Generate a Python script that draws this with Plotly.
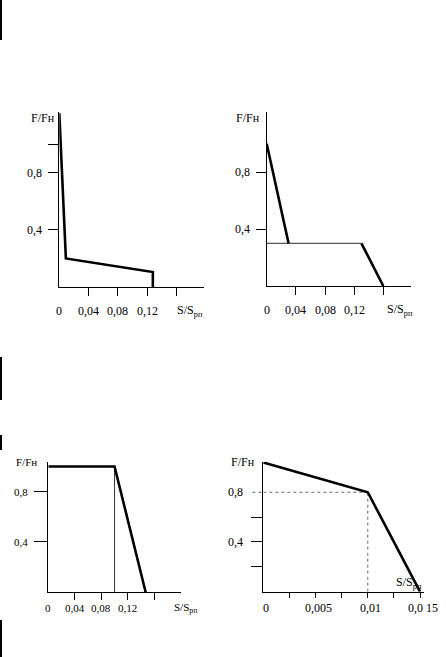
import plotly.graph_objects as go

# ---------------- data ----------------
# Panel 1 (top-left)
p1_x = [0, 0.009, 0.128, 0.128]
p1_y = [1.22, 0.2, 0.105, 0]
# Panel 2 (top-right)
p2_thick1_x = [0, 0.03]
p2_thick1_y = [1.0, 0.3]
p2_thin_x = [0, 0.13]
p2_thin_y = [0.3, 0.3]
p2_thick2_x = [0.13, 0.16]
p2_thick2_y = [0.3, 0]
# Panel 3 (bottom-left)
p3_x = [0, 0.1, 0.147]
p3_y = [1.0, 1.0, 0]
p3_thin_x = [0.1, 0.1]
p3_thin_y = [0, 1.0]
# Panel 4 (bottom-right)
p4_x = [0, 0.01, 0.015]
p4_y = [1.04, 0.8, 0]

# tick labels
x_ticks_a = [0.04, 0.08, 0.12, 0.16]
x_labels_a_vals = [0, 0.04, 0.08, 0.12]
x_labels_a = ["0", "0,04", "0,08", "0,12"]
y_ticks_p1 = [0.4, 0.8, 1.0]
y_ticks_p23 = [0.4, 0.8]
y_label_vals = [0.4, 0.8]
y_labels = ["0,4", "0,8"]
x_ticks_p4 = [0.0025, 0.005, 0.0075, 0.01, 0.0125, 0.015]
x_labels_p4_vals = [0, 0.005, 0.01, 0.015]
x_labels_p4 = ["0", "0,005", "0,01", "0,0 15"]
y_ticks_p4 = [0.2, 0.4, 0.6]

W, H = 446, 657
FONT = "Liberation Serif"

# pixel boxes: (left, right, bottom, top) and ranges
panels = {
    1: dict(box=(59.3, 204, 287, 111.7), xr=(0, 0.198), yr=(0, 1.23)),
    2: dict(box=(266.7, 411, 286, 111.7), xr=(0, 0.198), yr=(0, 1.225)),
    3: dict(box=(48.3, 181, 592.3, 462.0), xr=(0, 0.2003), yr=(0, 1.036)),
    4: dict(box=(263.3, 424, 591.7, 461.7), xr=(0, 0.01538), yr=(0, 1.046)),
}

fig = go.Figure()
layout = dict(width=W, height=H, margin=dict(l=0, r=0, t=0, b=0),
              paper_bgcolor="white", plot_bgcolor="white", showlegend=False,
              font=dict(family=FONT, size=12, color="black"))

ticklens = {1: 10, 2: 10, 3: 13, 4: 11}
xticklens = {1: 8, 2: 8, 3: 7, 4: 5}
for i, p in panels.items():
    l, r, b, t = p["box"]
    xs = "" if i == 1 else str(i)
    layout["xaxis" + xs] = dict(domain=[l / W, r / W], range=list(p["xr"]), anchor="y" + xs,
                                showline=True, linecolor="black", linewidth=1, showgrid=False,
                                zeroline=False, ticks="outside", ticklen=xticklens[i], tickwidth=1,
                                tickcolor="black", showticklabels=False, fixedrange=True)
    layout["yaxis" + xs] = dict(domain=[(H - b) / H, (H - t) / H], range=list(p["yr"]), anchor="x" + xs,
                                showline=True, linecolor="black", linewidth=1, showgrid=False,
                                zeroline=False, ticks="outside", ticklen=ticklens[i], tickwidth=1,
                                tickcolor="black", showticklabels=False, fixedrange=True)

layout["xaxis"]["tickvals"] = x_ticks_a
layout["xaxis2"]["tickvals"] = x_ticks_a
layout["xaxis3"]["tickvals"] = x_ticks_a
layout["xaxis4"]["tickvals"] = x_ticks_p4
layout["yaxis"]["tickvals"] = y_ticks_p1
layout["yaxis2"]["tickvals"] = y_ticks_p23
layout["yaxis3"]["tickvals"] = y_ticks_p23
layout["yaxis4"]["tickvals"] = y_ticks_p4

THICK = dict(color="black", width=2.6)
THIN = dict(color="#333333", width=1)

def line(x, y, n, style):
    xs = "" if n == 1 else str(n)
    fig.add_trace(go.Scatter(x=x, y=y, mode="lines", line=style, xaxis="x" + xs, yaxis="y" + xs,
                             hoverinfo="skip"))

line(p1_x, p1_y, 1, THICK)
line(p2_thin_x, p2_thin_y, 2, dict(color="#555555", width=1.2))
line(p2_thick1_x, p2_thick1_y, 2, THICK)
line(p2_thick2_x, p2_thick2_y, 2, THICK)
line(p3_thin_x, p3_thin_y, 3, THIN)
line(p3_x, p3_y, 3, THICK)
# dotted guides at the break point of panel 4
bx, by = p4_x[1], p4_y[1]
DOT = dict(color="#666666", width=1, dash="dot")
line([0, bx], [by, by], 4, DOT)
line([bx, bx], [0, by], 4, DOT)
line(p4_x, p4_y, 4, THICK)

ann = []
def A(text, x, y, n, xanchor="center", yanchor="middle", xshift=0, yshift=0, size=12, xref=None):
    xs = "" if n == 1 else str(n)
    ann.append(dict(text=text, x=x, y=y, xref=xref or ("x" + xs), yref="y" + xs, showarrow=False,
                    xanchor=xanchor, yanchor=yanchor, xshift=xshift, yshift=yshift,
                    font=dict(family=FONT, size=size, color="black")))

fs = {1: 12, 2: 12, 3: 11, 4: 12}
xlab_off = {1: -24, 2: -24, 3: -16, 4: -16}
ylab_off = {1: -15, 2: -15, 3: -18, 4: -18}
for n in (1, 2, 3):
    for v, t in zip(x_labels_a_vals, x_labels_a):
        A(t, v, 0, n, yshift=xlab_off[n], size=fs[n])
for v, t in zip(x_labels_p4_vals, x_labels_p4):
    A(t, v, 0, 4, yshift=xlab_off[4], size=fs[4], xshift=3)
for n in (1, 2, 3, 4):
    for v, t in zip(y_label_vals, y_labels):
        A(t, 0, v, n, xanchor="right", xshift=ylab_off[n], size=fs[n])

# axis titles
ytitle_shift = {1: (-2, -6), 2: (-5, -6), 3: (-9, 0), 4: (-6, 0)}
for n in (1, 2, 3, 4):
    p = panels[n]
    A("F/Fн", 0, p["yr"][1], n, xanchor="right",
      xshift=ytitle_shift[n][0], yshift=ytitle_shift[n][1], size=fs[n])
xs_title = "S/S<sub>рп</sub>"
A(xs_title, 1, 0, 1, xanchor="right", xshift=1, yshift=-24, size=fs[1], xref="x domain")
A(xs_title, 1, 0, 2, xanchor="right", xshift=4, yshift=-24, size=fs[2], xref="x2 domain")
A(xs_title, 1, 0, 3, xanchor="right", xshift=18, yshift=-16, size=fs[3], xref="x3 domain")
A(xs_title, 1, 0, 4, xanchor="right", xshift=0, yshift=9, size=fs[4], xref="x4 domain")
layout["annotations"] = ann

# scan-edge marks on the left border
edge_marks = [(0, 40), (357, 400), (435, 450), (620, 657)]
shapes = [dict(type="rect", xref="paper", yref="paper", x0=0, x1=2 / W,
               y0=(H - b) / H, y1=(H - a) / H, fillcolor="black", line=dict(width=0))
          for a, b in edge_marks]
# dotted tick of the 0,8 guide left of the y axis in panel 4
l4, r4, b4, t4 = panels[4]["box"]
yr4 = panels[4]["yr"]
ypx = b4 - (by - yr4[0]) / (yr4[1] - yr4[0]) * (b4 - t4)
shapes.append(dict(type="line", xref="paper", yref="paper", x0=(l4 - 11) / W, x1=l4 / W,
                   y0=(H - ypx) / H, y1=(H - ypx) / H, line=DOT))
layout["shapes"] = shapes

fig.update_layout(**layout)
fig.write_html("out.html", config={"displayModeBar": False},
               post_script="document.body.style.margin='0';document.body.style.overflow='hidden';")
